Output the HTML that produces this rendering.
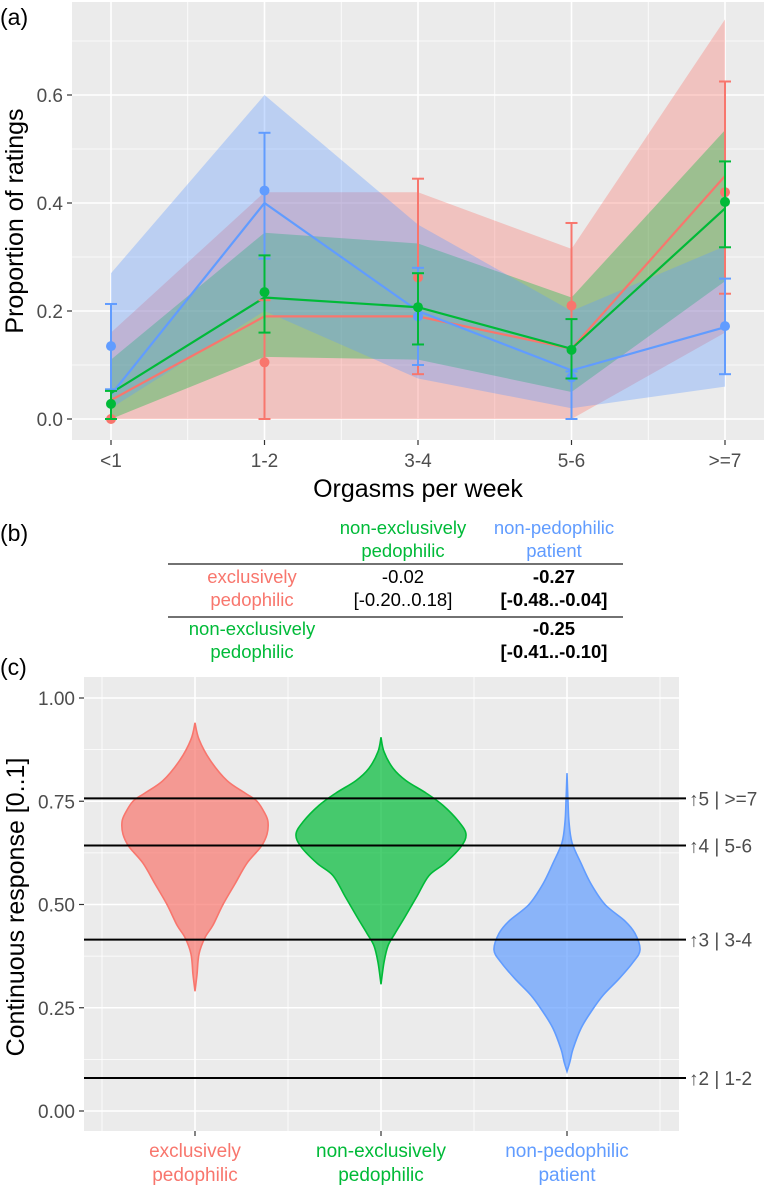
<!DOCTYPE html>
<html><head><meta charset="utf-8"><style>
html,body{margin:0;padding:0;background:#fff;}
svg{display:block;font-family:"Liberation Sans",Arial,sans-serif;}
</style></head><body>
<svg id="fig" width="764" height="1196" viewBox="0 0 764 1196" xmlns="http://www.w3.org/2000/svg"></svg>
<script>
// ---- Panel (a) data ----
const catsA = ["<1","1-2","3-4","5-6",">=7"];
const yTicksA = [0,0.2,0.4,0.6];
const yTickLabelsA = ["0.0","0.2","0.4","0.6"];
const redLine = [0.035,0.19,0.19,0.13,0.45];
const greenLine = [0.048,0.225,0.207,0.13,0.39];
const blueLine = [0.045,0.40,0.20,0.09,0.17];
const redLo = [0,0,0,0,0.16];
const redHi = [0.16,0.42,0.42,0.315,0.74];
const greenLo = [0,0.115,0.11,0.05,0.255];
const greenHi = [0.11,0.345,0.325,0.225,0.535];
const blueLo = [0.02,0.2,0.075,0.02,0.06];
const blueHi = [0.27,0.60,0.36,0.20,0.32];
const redPts = [0,0.105,0.262,0.21,0.42];
const redErrLo = [0,0,0.083,0,0.232];
const redErrHi = [0,0.22,0.445,0.363,0.625];
const greenPts = [0.028,0.235,0.207,0.128,0.402];
const greenErrLo = [0,0.16,0.138,0.075,0.318];
const greenErrHi = [0.052,0.303,0.27,0.185,0.477];
const bluePts = [0.135,0.423,0.19,0.077,0.172];
const blueErrLo = [0.055,0.297,0.1,0,0.083];
const blueErrHi = [0.213,0.53,0.28,0.088,0.26];
// ---- Panel (c) data ----
const groupsC = ["exclusively|pedophilic","non-exclusively|pedophilic","non-pedophilic|patient"];
const yTicksC = [0,0.25,0.5,0.75,1];
const yTickLabelsC = ["0.00","0.25","0.50","0.75","1.00"];
const thresholds = [0.757,0.643,0.415,0.08];
const thresholdLabels = ["\u21915 | >=7","\u21914 | 5-6","\u21913 | 3-4","\u21912 | 1-2"];
const redVy = [0.94,0.90,0.85,0.80,0.77,0.75,0.72,0.70,0.67,0.64,0.60,0.55,0.50,0.45,0.42,0.38,0.33,0.29];
const redVd = [0,4,15,32,50,62,70,73,72,66,52,40,28,18,10,4,2,0];
const greenVy = [0.905,0.87,0.83,0.80,0.77,0.74,0.70,0.67,0.64,0.60,0.57,0.52,0.47,0.43,0.40,0.36,0.307];
const greenVd = [0,3,12,25,45,62,78,85,80,64,48,36,24,14,7,3,0];
const blueVy = [0.818,0.75,0.70,0.65,0.60,0.55,0.50,0.46,0.43,0.39,0.36,0.32,0.28,0.24,0.20,0.15,0.12,0.096];
const blueVd = [0,1,2,5,14,24,38,58,68,73,66,52,36,24,14,6,3,0];

const NS="http://www.w3.org/2000/svg";
const svg=document.getElementById('fig');
function mk(tag,attrs,parent){const e=document.createElementNS(NS,tag);for(const k in attrs)e.setAttribute(k,attrs[k]);(parent||svg).appendChild(e);return e;}
function txt(s,x,y,attrs,parent){const t=mk('text',Object.assign({x:x,y:y},attrs),parent);t.textContent=s;return t;}

const RED="#F8766D",GREEN="#00BA38",BLUE="#619CFF";
const TICKF=19, TITLEF=25, TABF=18.5;

// ===== Panel A =====
const A={l:72,r:764,t:2,b:440};
const xA=i=>111+i*153.5;
const yA=v=>419-540*v;
const gA=mk('g',{});


const bgA=mk('rect',{x:A.l,y:A.t,width:A.r-A.l,height:A.b-A.t,fill:"#EBEBEB"},gA);

[0.1,0.3,0.5,0.7].forEach(v=>mk('line',{x1:A.l,x2:A.r,y1:yA(v),y2:yA(v),stroke:"#fff","stroke-width":0.8},gA));
for(let i=0;i<5;i++){mk('line',{x1:xA(i)-76.75,x2:xA(i)-76.75,y1:A.t,y2:A.b,stroke:"#fff","stroke-width":0.8},gA);}
mk('line',{x1:xA(4)+76.75,x2:xA(4)+76.75,y1:A.t,y2:A.b,stroke:"#fff","stroke-width":0.8},gA);
yTicksA.forEach((v,i)=>{mk('line',{x1:A.l,x2:A.r,y1:yA(v),y2:yA(v),stroke:"#fff","stroke-width":1.6},gA);
 mk('line',{x1:67,x2:72,y1:yA(v),y2:yA(v),stroke:"#333","stroke-width":1.2},gA);
 const t=txt(yTickLabelsA[i],63,yA(v)+7,{"text-anchor":"end","font-size":TICKF,fill:"#4d4d4d"},gA);
 });
catsA.forEach((c,i)=>{mk('line',{x1:xA(i),x2:xA(i),y1:A.t,y2:A.b,stroke:"#fff","stroke-width":1.6},gA);
 mk('line',{x1:xA(i),x2:xA(i),y1:A.b,y2:A.b+5,stroke:"#333","stroke-width":1.2},gA);
 const t=txt(c,xA(i),467,{"text-anchor":"middle","font-size":TICKF,fill:"#4d4d4d"},gA);
 });
function band(lo,hi,col,name){let d="M"+lo.map((v,i)=>xA(i)+","+yA(v)).join("L");
 for(let i=hi.length-1;i>=0;i--)d+="L"+xA(i)+","+yA(hi[i]);d+="Z";
 const p=mk('path',{d:d,fill:col,"fill-opacity":0.35},gA);}
band(redLo,redHi,RED,'band-exclusively');
band(greenLo,greenHi,GREEN,'band-non-exclusively');
band(blueLo,blueHi,BLUE,'band-non-pedophilic');
function line(vals,col,name){const p=mk('polyline',{points:vals.map((v,i)=>xA(i)+","+yA(v)).join(" "),fill:"none",stroke:col,"stroke-width":2.2},gA);
 }
line(redLine,RED,'line-exclusively');line(blueLine,BLUE,'line-non-pedophilic');line(greenLine,GREEN,'line-non-exclusively');
function errs(pts,lo,hi,col,name){pts.forEach((v,i)=>{const x=xA(i);
 const g=mk('g',{},gA);
 mk('line',{x1:x,x2:x,y1:yA(lo[i]),y2:yA(hi[i]),stroke:col,"stroke-width":2},g);
 mk('line',{x1:x-6,x2:x+6,y1:yA(lo[i]),y2:yA(lo[i]),stroke:col,"stroke-width":2},g);
 mk('line',{x1:x-6,x2:x+6,y1:yA(hi[i]),y2:yA(hi[i]),stroke:col,"stroke-width":2},g);
 const c=mk('circle',{cx:x,cy:yA(v),r:5,fill:col},g);});}
errs(redPts,redErrLo,redErrHi,RED,'exclusively');
errs(bluePts,blueErrLo,blueErrHi,BLUE,'non-pedophilic');
errs(greenPts,greenErrLo,greenErrHi,GREEN,'non-exclusively');
let t;
t=txt("(a)",0,25,{"font-size":23,fill:"#000"});
t=txt("Orgasms per week",418,497,{"text-anchor":"middle","font-size":TITLEF,fill:"#000"});
t=txt("Proportion of ratings",0,0,{"text-anchor":"middle","font-size":TITLEF,fill:"#000",transform:"translate(23,221) rotate(-90)"});

// ===== Panel B (table) =====
const gB=mk('g',{"font-size":TABF});

t=txt("(b)",0,541,{"font-size":23,fill:"#000"});
function cell(s,x,y,col,bold,name){const e=txt(s,x,y,{"text-anchor":"middle",fill:col,"font-weight":bold?"bold":"normal"},gB);}
cell("non-exclusively",403,534,GREEN,false,'header-non-exclusively');
cell("pedophilic",403,557,GREEN,false,'header-non-exclusively');
cell("non-pedophilic",554,534,BLUE,false,'header-non-pedophilic');
cell("patient",554,557,BLUE,false,'header-non-pedophilic');
mk('line',{x1:168,x2:623,y1:564,y2:564,stroke:"#444","stroke-width":1.5},gB);
cell("exclusively",252,583,RED,false,'row-exclusively');
cell("pedophilic",252,606,RED,false,'row-exclusively');
cell("-0.02",403,583,"#000",false,'cell-value');
cell("[-0.20..0.18]",403,606,"#000",false,'cell-ci');
cell("-0.27",554,583,"#000",true,'cell-value');
cell("[-0.48..-0.04]",554,606,"#000",true,'cell-ci');
mk('line',{x1:168,x2:623,y1:617,y2:617,stroke:"#444","stroke-width":1.5},gB);
cell("non-exclusively",252,635,GREEN,false,'row-non-exclusively');
cell("pedophilic",252,658,GREEN,false,'row-non-exclusively');
cell("-0.25",554,635,"#000",true,'cell-value');
cell("[-0.41..-0.10]",554,658,"#000",true,'cell-ci');

// ===== Panel C =====
const C={l:84,r:679,t:677,b:1131};
const yC=v=>1111-413*v;
const xC=i=>195+i*186;
const gC=mk('g',{});

const bgC=mk('rect',{x:C.l,y:C.t,width:C.r-C.l,height:C.b-C.t,fill:"#EBEBEB"},gC);

[0.125,0.375,0.625,0.875].forEach(v=>mk('line',{x1:C.l,x2:C.r,y1:yC(v),y2:yC(v),stroke:"#fff","stroke-width":0.8},gC));
for(let i=0;i<4;i++){mk('line',{x1:xC(i)-93,x2:xC(i)-93,y1:C.t,y2:C.b,stroke:"#fff","stroke-width":0.8},gC);}
yTicksC.forEach((v,i)=>{mk('line',{x1:C.l,x2:C.r,y1:yC(v),y2:yC(v),stroke:"#fff","stroke-width":1.6},gC);
 mk('line',{x1:79,x2:84,y1:yC(v),y2:yC(v),stroke:"#333","stroke-width":1.2},gC);
 const e=txt(yTickLabelsC[i],75,yC(v)+7,{"text-anchor":"end","font-size":TICKF,fill:"#4d4d4d"},gC);
 });
const cols=[RED,GREEN,BLUE];
groupsC.forEach((g,i)=>{mk('line',{x1:xC(i),x2:xC(i),y1:C.t,y2:C.b,stroke:"#fff","stroke-width":1.6},gC);
 mk('line',{x1:xC(i),x2:xC(i),y1:C.b,y2:C.b+5,stroke:"#333","stroke-width":1.2},gC);
 const parts=g.split("|");
 parts.forEach((p,k)=>{const e=txt(p,xC(i),1157+k*24,{"text-anchor":"middle","font-size":TICKF,fill:cols[i]},gC);
  });});
function smoothPath(pts){let d="M"+pts[0][0]+","+pts[0][1];
 for(let i=0;i<pts.length-1;i++){const p0=pts[Math.max(0,i-1)],p1=pts[i],p2=pts[i+1],p3=pts[Math.min(pts.length-1,i+2)];
  const c1=[p1[0]+(p2[0]-p0[0])/6,p1[1]+(p2[1]-p0[1])/6],c2=[p2[0]-(p3[0]-p1[0])/6,p2[1]-(p3[1]-p1[1])/6];
  d+="C"+c1[0]+","+c1[1]+" "+c2[0]+","+c2[1]+" "+p2[0]+","+p2[1];}return d;}
function violin(ys,ds,i,col,name){const cx=xC(i);
 const right=ys.map((v,k)=>[cx+ds[k],yC(v)]);
 const left=ys.map((v,k)=>[cx-ds[k],yC(v)]).reverse();
 let d=smoothPath(right)+smoothPath(left).replace(/^M/,"L")+"Z";
 const p=mk('path',{d:d,fill:col,"fill-opacity":0.7,stroke:col,"stroke-width":1.6},gC);
 }
violin(redVy,redVd,0,RED,'violin-exclusively');
violin(greenVy,greenVd,1,GREEN,'violin-non-exclusively');
violin(blueVy,blueVd,2,BLUE,'violin-non-pedophilic');
thresholds.forEach((v,i)=>{const l=mk('line',{x1:C.l,x2:686,y1:yC(v),y2:yC(v),stroke:"#000","stroke-width":2},gC);
 
 const e=txt(thresholdLabels[i],689,yC(v)+7,{"font-size":TICKF,fill:"#4d4d4d"},gC);
 });
t=txt("(c)",0,675,{"font-size":23,fill:"#000"});
t=txt("Continuous response [0..1]",0,0,{"text-anchor":"middle","font-size":TITLEF,fill:"#000",transform:"translate(24,907) rotate(-90)"});
</script>
</body></html>
